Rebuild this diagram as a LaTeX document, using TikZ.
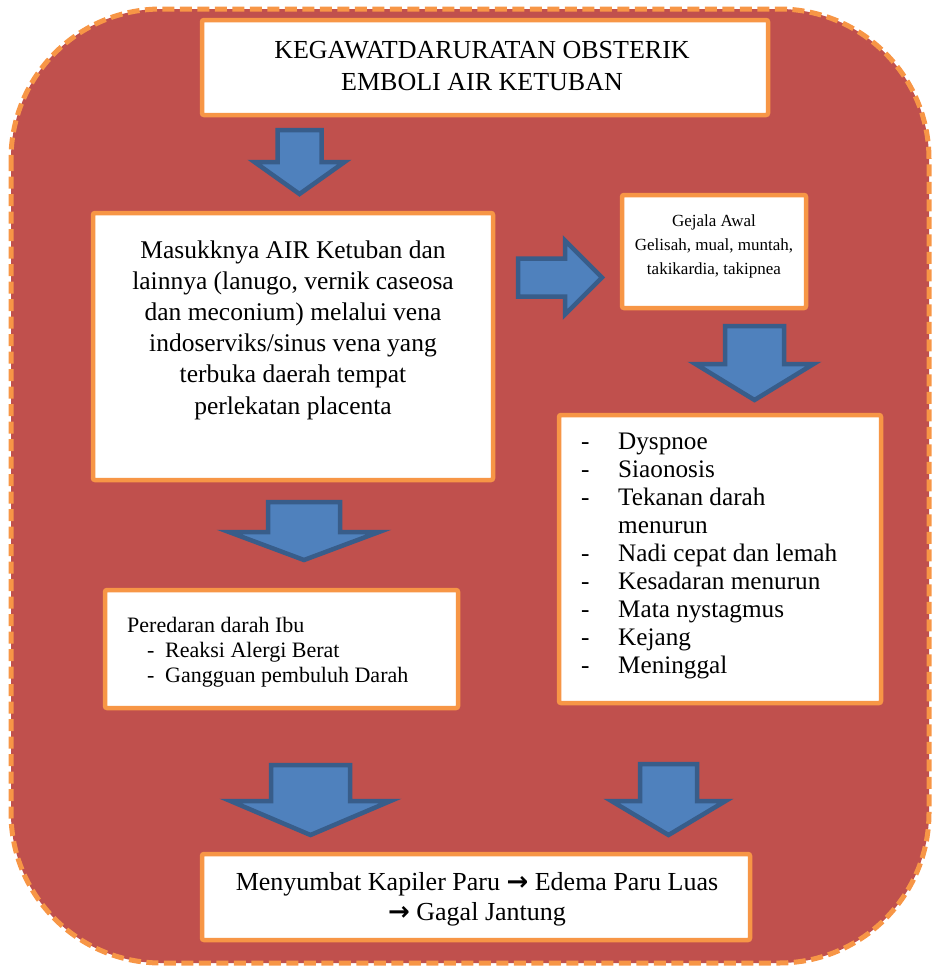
\documentclass[tikz,border=0pt]{standalone}
\usepackage{fontspec}
\setmainfont{Liberation Serif}
\newfontfamily\arrowfont{DejaVu Sans}
\definecolor{panelred}{HTML}{C0504D}
\definecolor{boxorange}{HTML}{F79646}
\definecolor{arrowfill}{HTML}{4F81BD}
\definecolor{arrowedge}{HTML}{385D8A}
\newcommand{\thickarrow}{{\arrowfont\bfseries →}}
\tikzset{
  box/.style={draw=boxorange, line width=4.5pt, fill=white, rounded corners=2pt, inner sep=0pt},
  blockarrow/.style={draw=arrowedge, fill=arrowfill, line width=4.5pt, line join=miter, miter limit=10},
  txt/.style={inner sep=0pt, text=black},
  % down-pointing block arrow: shaft half width, head half width, shaft length, head length
  pics/downarrow/.style n args={4}{code={
    \draw[blockarrow] (-#1,0) -- (#1,0) -- (#1,#3) -- (#2,#3) -- (0,{#3+#4}) -- (-#2,#3) -- (-#1,#3) -- cycle;}},
  % right-pointing block arrow, same parameters
  pics/rightarrow/.style n args={4}{code={
    \draw[blockarrow] (0,-#1) -- (0,#1) -- (#3,#1) -- (#3,#2) -- ({#3+#4},0) -- (#3,-#2) -- (#3,-#1) -- cycle;}}
}
\begin{document}
\begin{tikzpicture}[x=1pt,y=-1pt]
\useasboundingbox (0,0) rectangle (936,967);
% background panel
\draw[fill=panelred, draw=boxorange, line width=5pt, dash pattern=on 12pt off 5.5pt, rounded corners=150pt]
  (11,9) rectangle (929,963);

% boxes
\node[box, minimum width=566pt, minimum height=95pt] (title) at (485,67.5) {};
\node[box, minimum width=400pt, minimum height=267pt] (cause) at (293,346.5) {};
\node[box, minimum width=184pt, minimum height=113pt] (early) at (714,251.5) {};
\node[box, minimum width=322pt, minimum height=288pt] (signs) at (720,559) {};
\node[box, minimum width=353pt, minimum height=118pt] (blood) at (281.5,649) {};
\node[box, minimum width=548pt, minimum height=86pt] (result) at (476,897) {};

% texts
\node[txt, align=center, font=\fontsize{26}{32}\selectfont] (titleT) at (482,66)
  {KEGAWATDARURATAN OBSTERIK\\EMBOLI AIR KETUBAN};
\node[txt, align=center, font=\fontsize{25.5}{31.2}\selectfont] (causeT) at (293,330)
  {Masukknya AIR Ketuban dan\\lainnya (lanugo, vernik caseosa\\dan meconium) melalui vena\\indoserviks/sinus vena yang\\terbuka daerah tempat\\perlekatan placenta};
\node[txt, align=center, font=\fontsize{17}{24}\selectfont] (earlyT) at (714,246)
  {Gejala Awal\\Gelisah, mual, muntah,\\takikardia, takipnea};
\node[txt, align=left, anchor=west, font=\fontsize{25.2}{28.1}\selectfont] (signsT) at (581,556)
  {\makebox[37pt][l]{-}Dyspnoe\\
   \makebox[37pt][l]{-}Siaonosis\\
   \makebox[37pt][l]{-}Tekanan darah\\
   \makebox[37pt][l]{}menurun\\
   \makebox[37pt][l]{-}Nadi cepat dan lemah\\
   \makebox[37pt][l]{-}Kesadaran menurun\\
   \makebox[37pt][l]{-}Mata nystagmus\\
   \makebox[37pt][l]{-}Kejang\\
   \makebox[37pt][l]{-}Meninggal};
\node[txt, align=left, anchor=west, font=\fontsize{22}{25}\selectfont] (bloodT) at (127,652)
  {Peredaran darah Ibu\\
   \hspace*{20pt}\makebox[18pt][l]{-}Reaksi Alergi Berat\\
   \hspace*{20pt}\makebox[18pt][l]{-}Gangguan pembuluh Darah};
\node[txt, align=center, font=\fontsize{26}{30}\selectfont] (resultT) at (477,899)
  {Menyumbat Kapiler Paru \thickarrow\ Edema Paru Luas\\\thickarrow\ Gagal Jantung};

% block arrows
\pic (arrTop) at (299.5,130) {downarrow={22}{45}{32}{32}};
\pic (arrRight) at (518,277.5) {rightarrow={19}{37}{47}{37}};
\pic (arrCause) at (304,502) {downarrow={36}{75}{30}{28}};
\pic (arrEarly) at (754.5,326) {downarrow={29.5}{59}{38}{36}};
\pic (arrBlood) at (310.5,765) {downarrow={39.5}{80}{36}{34}};
\pic (arrSigns) at (668.5,764) {downarrow={28.5}{57}{37}{34}};
\end{tikzpicture}
\end{document}
